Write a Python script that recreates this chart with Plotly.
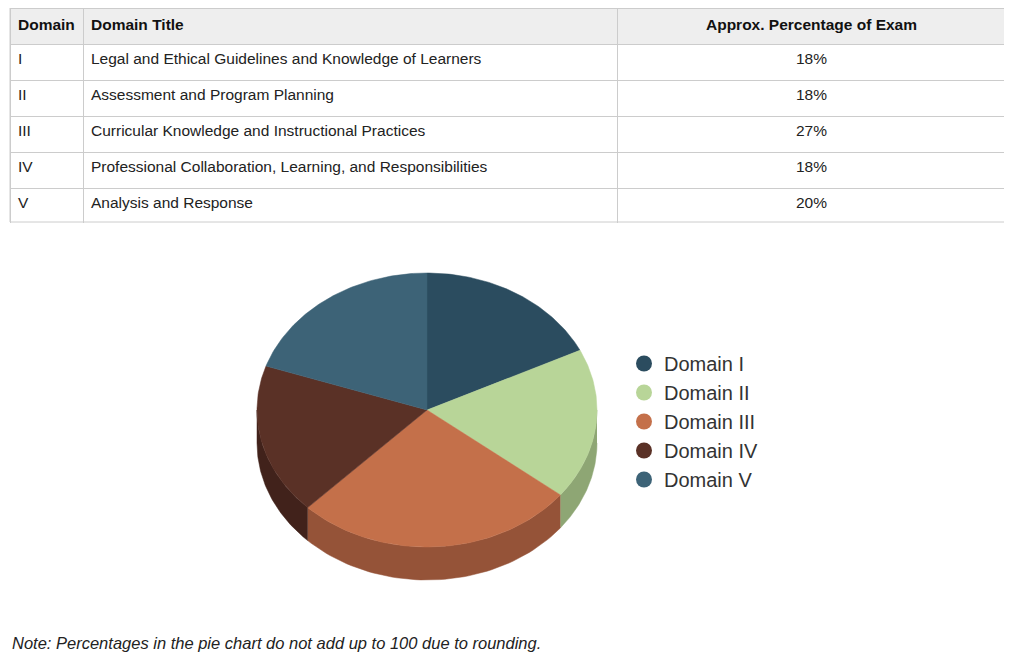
import numpy as np
import plotly.graph_objects as go

# table data
domains = ["I", "II", "III", "IV", "V"]
titles = [
    "Legal and Ethical Guidelines and Knowledge of Learners",
    "Assessment and Program Planning",
    "Curricular Knowledge and Instructional Practices",
    "Professional Collaboration, Learning, and Responsibilities",
    "Analysis and Response",
]
percents = [18, 18, 27, 18, 20]
legend_names = ["Domain " + d for d in domains]

top_colors = ["#2b4c5f", "#b8d598", "#c4704a", "#5a3126", "#3d6377"]
side_colors = ["#1f3847", "#8ea674", "#955338", "#41221b", "#2c4957"]

W, H = 1012, 666
OFF = 8  # page body margin

# pie geometry (page pixels, shifted by body margin)
cx, cy, rx, ry, depth = 427 - OFF, 410 - OFF, 170, 137, 33


def pt(theta):
    t = np.radians(theta)
    return cx + rx * np.sin(t), cy - ry * np.cos(t)


def fx(p):
    return (p - OFF) / W


def fy(p):
    return 1 - (p - OFF) / H


fig = go.Figure()

fig.add_trace(go.Table(
    domain=dict(x=[fx(10), fx(1006)], y=[fy(223), fy(8)]),
    columnwidth=[73, 534, 389],
    header=dict(
        values=["<b>Domain</b>", "<b>Domain Title</b>", "<b>Approx. Percentage of Exam</b>"],
        fill_color="#eeeeee", line_color="#cccccc",
        align=["left", "left", "center"],
        font=dict(family="Liberation Sans, Arial", size=15.5, color="#111"),
        height=36),
    cells=dict(
        values=[domains, titles, [f"{p}%" for p in percents]],
        fill_color="white", line_color="#cccccc",
        align=["left", "left", "center"],
        font=dict(family="Liberation Sans, Arial", size=15.5, color="#222"),
        height=36),
))

total = sum(percents)
bounds = np.cumsum([0] + [p / total * 360 for p in percents])

# side walls (front half only: theta in [90, 270])
for i in range(len(percents)):
    a1, a2 = max(bounds[i], 90), min(bounds[i + 1], 270)
    if a2 <= a1:
        continue
    th = np.linspace(a1, a2, 60)
    xs, ys = pt(th)
    px_ = np.concatenate([xs, xs[::-1]])
    py_ = np.concatenate([ys, ys[::-1] + depth])
    fig.add_trace(go.Scatter(x=px_, y=py_, fill="toself", mode="lines",
                             line=dict(width=0.5, color=side_colors[i]),
                             fillcolor=side_colors[i], showlegend=False, hoverinfo="skip"))

# top faces
for i in range(len(percents)):
    th = np.linspace(bounds[i], bounds[i + 1], 80)
    xs, ys = pt(th)
    fig.add_trace(go.Scatter(x=np.concatenate([[cx], xs, [cx]]), y=np.concatenate([[cy], ys, [cy]]),
                             fill="toself", mode="lines",
                             line=dict(width=0.5, color=top_colors[i]),
                             fillcolor=top_colors[i], showlegend=False,
                             name=legend_names[i], hoverinfo="name"))

# legend entries
for name, c in zip(legend_names, top_colors):
    fig.add_trace(go.Scatter(x=[None], y=[None], mode="markers", name=name,
                             marker=dict(size=20, color=c)))

fig.update_layout(
    width=W, height=H,
    margin=dict(l=0, r=0, t=0, b=0),
    paper_bgcolor="white", plot_bgcolor="white",
    xaxis=dict(range=[0, W], visible=False, domain=[0, 1]),
    yaxis=dict(range=[H, 0], visible=False, domain=[0, 1]),
    legend=dict(x=fx(624), y=fy(344), xanchor="left", yanchor="top",
                font=dict(family="Liberation Sans, Arial", size=20, color="#333"),
                tracegroupgap=0),
    shapes=[dict(type="rect", xref="paper", yref="paper",
                 x0=fx(10), x1=fx(1006), y0=fy(222), y1=fy(8),
                 line=dict(color="#cccccc", width=1))],
    annotations=[dict(
        text="<i>Note: Percentages in the pie chart do not add up to 100 due to rounding.</i>",
        x=fx(10), y=fy(643), xref="paper", yref="paper",
        xanchor="left", yanchor="middle", showarrow=False,
        font=dict(family="Liberation Sans, Arial", size=16.5, color="#222"))],
)

fig.write_html("out.html")
